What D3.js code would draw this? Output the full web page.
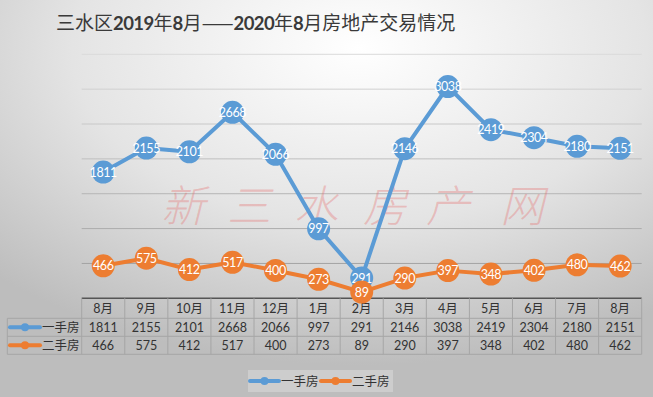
<!DOCTYPE html>
<meta charset="utf-8">
<style>
  body { margin: 0; }
  svg { display: block; }
</style>
<svg width="653" height="397"></svg>
<script src="https://cdn.jsdelivr.net/npm/d3@7"></script>
<script>

var months = ["8月", "9月", "10月", "11月", "12月", "1月", "2月", "3月", "4月", "5月", "6月", "7月", "8月"];
var seriesNames = ["一手房", "二手房"];
var firstHand = [1811, 2155, 2101, 2668, 2066, 997, 291, 2146, 3038, 2419, 2304, 2180, 2151];
var secondHand = [466, 575, 412, 517, 400, 273, 89, 290, 397, 348, 402, 480, 462];
var yTicks = [0, 500, 1000, 1500, 2000, 2500, 3000, 3500];
var colors = ["#5b9bd5", "#ed7d31"];
var watermark = ["新", "三", "水", "房", "产", "网"];

var svg = d3.select("svg"),
    width = 653,
    height = 397;

var font = "Lato, 'Noto Sans CJK SC', sans-serif";
var cjk = "'Noto Sans CJK SC', sans-serif";

// background gradient
var defs = svg.append("defs");
var grad = defs.append("radialGradient")
    .attr("id", "bg")
    .attr("cx", "0.55").attr("cy", "0.12").attr("r", "0.8");
grad.append("stop").attr("offset", "0").attr("stop-color", "#ffffff");
grad.append("stop").attr("offset", "0.55").attr("stop-color", "#e4e4e4");
grad.append("stop").attr("offset", "1").attr("stop-color", "#bdbdbd");

svg.append("rect").attr("width", width).attr("height", height).attr("fill", "url(#bg)");

var x = d3.scaleBand().domain(d3.range(months.length)).range([81.7, 641.7]);
var y = d3.scaleLinear().domain([0, 3500]).range([298.3, 54.3]);
var cx = function(i) { return x(i) + x.bandwidth() / 2; };

// title
var title = svg.append("text")
    .attr("x", 56).attr("y", 30)
    .attr("font-family", cjk).attr("font-size", 19)
    .attr("fill", "#3a3a3a");
[["三水区", 0], ["2019", 1], ["年", 0], ["8", 1], ["月——", 0], ["2020", 1],
 ["年", 0], ["8", 1], ["月房地产交易情况", 0]].forEach(function(p) {
  var t = title.append("tspan").text(p[0]);
  if (p[1] === 1) t.attr("font-family", font).attr("font-weight", 700)
      .attr("font-size", 18.5).attr("letter-spacing", -0.6);
});

// gridlines
var gridColor = d3.scaleLinear().domain([3500, 0]).range(["#dadada", "#9a9a9a"]);
svg.append("g").selectAll("line")
    .data(yTicks.slice(1))
    .join("line")
    .attr("x1", 81.7).attr("x2", 641.7)
    .attr("y1", d => y(d)).attr("y2", d => y(d))
    .attr("stroke", d => gridColor(d)).attr("stroke-width", 1);

// watermark
svg.append("g").selectAll("text")
    .data(watermark)
    .join("text")
    .attr("x", (d, i) => [183, 249, 316, 385, 448, 522][i])
    .attr("y", 222)
    .attr("text-anchor", "middle")
    .attr("font-family", cjk).attr("font-size", 44).attr("font-weight", 300)
    .attr("font-style", "italic")
    .attr("fill", "rgba(230,110,110,0.35)")
    .text(d => d);

// axis line on top of table
svg.append("line")
    .attr("x1", 81.7).attr("x2", 641.7)
    .attr("y1", y(0)).attr("y2", y(0))
    .attr("stroke", "#555").attr("stroke-width", 1.5);

// data table
var rowY = [298.3, 318.3, 336.3, 354.3];
var tableColor = "#a6a6a6";
var table = svg.append("g");
table.selectAll("line.h")
    .data(rowY.slice(1))
    .join("line")
    .attr("x1", 7.3).attr("x2", 641.7)
    .attr("y1", d => d).attr("y2", d => d)
    .attr("stroke", tableColor);
table.selectAll("line.v")
    .data(d3.range(months.length + 1))
    .join("line")
    .attr("x1", i => x(i) === undefined ? 641.7 : x(i))
    .attr("x2", i => x(i) === undefined ? 641.7 : x(i))
    .attr("y1", rowY[0]).attr("y2", rowY[3])
    .attr("stroke", tableColor);
table.append("line")
    .attr("x1", 7.3).attr("x2", 7.3).attr("y1", rowY[1]).attr("y2", rowY[3])
    .attr("stroke", tableColor);

table.selectAll("text.m")
    .data(months)
    .join("text")
    .attr("x", (d, i) => cx(i)).attr("y", 313)
    .attr("text-anchor", "middle")
    .attr("font-family", font).attr("font-size", 12.5).attr("fill", "#333")
    .text(d => d);

[firstHand, secondHand].forEach(function(vals, s) {
  var ry = (rowY[s + 1] + rowY[s + 2]) / 2;
  table.append("g").selectAll("text")
      .data(vals)
      .join("text")
      .attr("x", (d, i) => cx(i)).attr("y", ry + 4.5)
      .attr("text-anchor", "middle")
      .attr("font-family", font).attr("font-size", 12.5).attr("fill", "#333")
      .text(d => d);
  table.append("line")
      .attr("x1", 10).attr("x2", 40).attr("y1", ry).attr("y2", ry)
      .attr("stroke", colors[s]).attr("stroke-width", 4).attr("stroke-linecap", "round");
  table.append("circle").attr("cx", 25).attr("cy", ry).attr("r", 4).attr("fill", colors[s]);
  table.append("text")
      .attr("x", 42).attr("y", ry + 5)
      .attr("font-family", cjk).attr("font-size", 12.5).attr("fill", "#333")
      .text(seriesNames[s]);
});

// series
var line = d3.line().x((d, i) => cx(i)).y(d => y(d));
[firstHand, secondHand].forEach(function(vals, s) {
  var g = svg.append("g");
  g.append("path")
      .datum(vals)
      .attr("d", line)
      .attr("fill", "none")
      .attr("stroke", colors[s]).attr("stroke-width", 4)
      .attr("stroke-linejoin", "round");
  g.selectAll("circle")
      .data(vals)
      .join("circle")
      .attr("cx", (d, i) => cx(i)).attr("cy", d => y(d))
      .attr("r", 11.5)
      .attr("fill", colors[s]);
  g.selectAll("text")
      .data(vals)
      .join("text")
      .attr("x", (d, i) => cx(i)).attr("y", d => y(d) + 4.5)
      .attr("text-anchor", "middle")
      .attr("font-family", font).attr("font-size", 12.5)
      .attr("letter-spacing", -0.4)
      .attr("fill", "#fff")
      .text(d => d);
});

// legend
var legend = svg.append("g");
legend.append("rect")
    .attr("x", 248).attr("y", 370).attr("width", 145).attr("height", 22)
    .attr("fill", "#ffffff").attr("fill-opacity", 0.25);
var legendX = [250, 321];
seriesNames.forEach(function(name, s) {
  var lx = legendX[s];
  legend.append("line")
      .attr("x1", lx).attr("x2", lx + 29).attr("y1", 381).attr("y2", 381)
      .attr("stroke", colors[s]).attr("stroke-width", 4).attr("stroke-linecap", "round");
  legend.append("circle").attr("cx", lx + 14.5).attr("cy", 381).attr("r", 4).attr("fill", colors[s]);
  legend.append("text")
      .attr("x", lx + 31).attr("y", 386)
      .attr("font-family", cjk).attr("font-size", 12.5).attr("fill", "#333")
      .text(name);
});

</script>
